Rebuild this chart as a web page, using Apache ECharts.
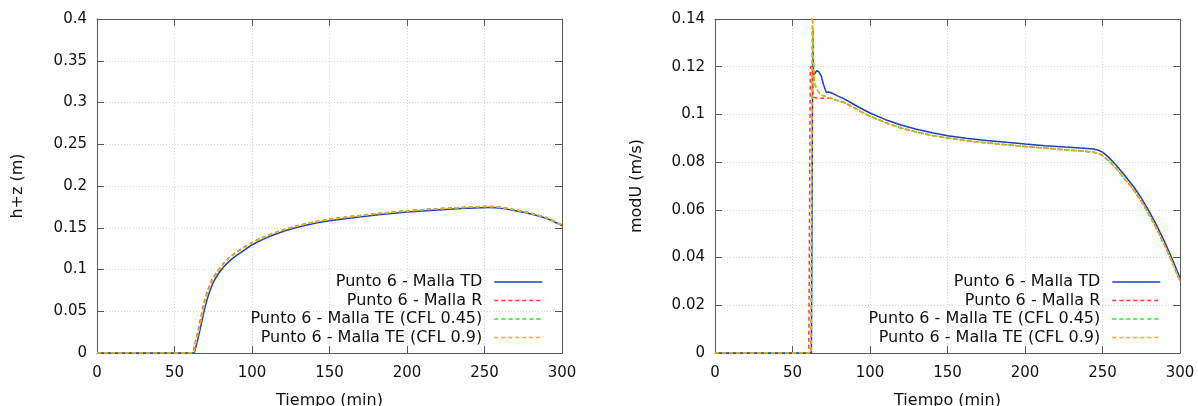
<!DOCTYPE html>
<html>
<head>
<meta charset="utf-8">
<script src="https://cdn.jsdelivr.net/npm/echarts@6/dist/echarts.min.js"></script>
<style>
html,body{margin:0;padding:0;background:#fff;}
#chart{width:1198px;height:406px;}
</style>
</head>
<body>
<div id="chart"></div>
<script>
// ---- Data ----
const seriesNames = ['Punto 6 - Malla TD', 'Punto 6 - Malla R', 'Punto 6 - Malla TE (CFL 0.45)', 'Punto 6 - Malla TE (CFL 0.9)'];
const xTicks = [0, 50, 100, 150, 200, 250, 300];

// Left chart: h+z (m) vs Tiempo (min)
const hzTD = [[0,0],[62.3,0],[64,0.009],[66,0.024],[68,0.041],[70,0.057],[72,0.07],[75,0.0845],[78,0.094],[82,0.1035],[86,0.111],[91,0.118],[96,0.1245],[101,0.1305],[110,0.1385],[120,0.1455],[130,0.1508],[140,0.1552],[150,0.1584],[160,0.1609],[170,0.1632],[180,0.1652],[190,0.1671],[200,0.1688],[210,0.1702],[220,0.1713],[230,0.1724],[240,0.1734],[247,0.174],[252,0.1743],[257,0.174],[262,0.1729],[270,0.1704],[280,0.1664],[290,0.161],[300,0.1527]];
const hzR = [[0,0],[61.3,0],[63,0.01],[65,0.025],[67,0.043],[69,0.06],[71,0.073],[74,0.087],[77,0.096],[81,0.106],[85,0.114],[90,0.121],[95,0.127],[100,0.1325],[110,0.1408],[120,0.1475],[130,0.1527],[140,0.157],[150,0.1601],[160,0.1626],[170,0.1648],[180,0.1668],[190,0.1687],[200,0.1704],[210,0.1717],[220,0.1728],[230,0.1738],[240,0.1748],[247,0.1754],[252,0.1756],[257,0.1753],[262,0.1741],[270,0.1715],[280,0.1674],[290,0.1619],[300,0.1534]];
const hzTE045 = [[0,0],[61.8,0],[63.4,0.01],[65.4,0.025],[67.4,0.043],[69.4,0.06],[71.4,0.073],[74.4,0.087],[77.4,0.096],[81.3,0.106],[85.3,0.114],[90.2,0.1208],[95.2,0.1268],[100,0.1323],[110,0.1406],[120,0.1473],[130,0.1525],[140,0.1568],[150,0.1599],[160,0.1624],[170,0.1646],[180,0.1666],[190,0.1685],[200,0.1702],[210,0.1715],[220,0.1726],[230,0.1736],[240,0.1746],[247,0.1752],[252,0.1754],[257,0.1751],[262,0.1739],[270,0.1713],[280,0.1672],[290,0.1617],[300,0.1532]];
const hzTE09 = [[0,0],[61.9,0],[63.5,0.01],[65.5,0.025],[67.5,0.043],[69.5,0.06],[71.5,0.073],[74.5,0.087],[77.5,0.096],[81.4,0.106],[85.4,0.114],[90.3,0.1208],[95.3,0.1268],[100,0.1322],[110,0.1405],[120,0.1472],[130,0.1524],[140,0.1567],[150,0.1598],[160,0.1623],[170,0.1645],[180,0.1665],[190,0.1684],[200,0.1701],[210,0.1714],[220,0.1725],[230,0.1735],[240,0.1745],[247,0.1751],[252,0.1753],[257,0.175],[262,0.1738],[270,0.1712],[280,0.1671],[290,0.1616],[300,0.1531]];

// Right chart: modU (m/s) vs Tiempo (min)
const uTD = [[0,0],[62.2,0],[63.1,0.1355],[63.6,0.1165],[64.5,0.117],[65.7,0.1183],[67,0.1178],[68.5,0.1162],[70,0.1125],[71.8,0.1092],[73.5,0.1094],[76,0.1088],[79,0.1078],[83,0.1066],[88,0.1048],[94,0.1026],[100,0.1006],[110,0.0978],[120,0.0956],[130,0.0938],[140,0.0923],[150,0.0911],[162,0.09],[175,0.0891],[188,0.0883],[200,0.0876],[213,0.0869],[226,0.0863],[238,0.0858],[244,0.0855],[247,0.0851],[250,0.0842],[254,0.082],[259,0.0786],[264,0.0747],[270,0.0698],[275,0.065],[280,0.0595],[285,0.0534],[290,0.0467],[295,0.0394],[300,0.0315]];
const uR = [[0,0],[60.5,0],[61.5,0.12],[62.8,0.12],[63.2,0.1072],[66,0.1068],[70,0.1068],[72,0.1069],[74,0.107],[78,0.106],[83,0.1051],[88,0.1035],[94,0.1012],[100,0.0993],[110,0.0965],[120,0.0943],[130,0.0926],[140,0.0912],[150,0.0901],[162,0.089],[175,0.0881],[188,0.0873],[200,0.0866],[213,0.0859],[226,0.0852],[238,0.0846],[244,0.0842],[247,0.0837],[250,0.0828],[254,0.0806],[259,0.0772],[264,0.0733],[270,0.0684],[275,0.0636],[280,0.0581],[285,0.052],[290,0.0453],[295,0.038],[300,0.0302]];
const uTE045 = [[0,0],[61.9,0],[62.9,0.136],[63.6,0.119],[64.3,0.1125],[65.5,0.111],[67.5,0.1088],[70,0.1078],[74,0.107],[78,0.106],[83,0.1051],[88,0.1035],[94,0.1012],[100,0.0993],[110,0.0965],[120,0.0943],[130,0.0926],[140,0.0912],[150,0.0901],[162,0.089],[175,0.0881],[188,0.0873],[200,0.0866],[213,0.0859],[226,0.0852],[238,0.0846],[244,0.0842],[247,0.0837],[250,0.0828],[254,0.0806],[259,0.0772],[264,0.0733],[270,0.0684],[275,0.0636],[280,0.0581],[285,0.052],[290,0.0453],[295,0.038],[300,0.0302]];
const uTE09 = [[0,0],[61.9,0],[62.8,0.148],[63.5,0.122],[64.2,0.1135],[65.5,0.1108],[67.5,0.1087],[70,0.1077],[74,0.1069],[78,0.1059],[83,0.105],[88,0.1034],[94,0.1011],[100,0.0992],[110,0.0964],[120,0.0942],[130,0.0925],[140,0.0911],[150,0.09],[162,0.0889],[175,0.088],[188,0.0872],[200,0.0865],[213,0.0858],[226,0.0851],[238,0.0845],[244,0.0841],[247,0.0836],[250,0.0827],[254,0.0805],[259,0.0771],[264,0.0732],[270,0.0683],[275,0.0635],[280,0.058],[285,0.0519],[290,0.0452],[295,0.0379],[300,0.0301]];

// ---- Styling ----
const FONT = "'DejaVu Sans', sans-serif";
const colors = ['#1d3fbf', '#ff3a3a', '#1fef1f', '#ffa81a'];
const dashes = ['solid', [4, 3], [4, 3], [4, 3]];
const borderColor = '#5a5a5a';
const gridColor = '#d6d6d6';

function mainX(gridIndex) {
  return {
    type: 'value', gridIndex, min: 0, max: 300, interval: 50, position: 'bottom',
    name: 'Tiempo (min)', nameLocation: 'middle', nameGap: 40,
    nameTextStyle: { fontFamily: FONT, fontSize: 16, color: '#111' },
    axisLine: { show: true, onZero: false, lineStyle: { color: borderColor, width: 1 } },
    axisTick: { show: true, inside: true, length: 7, lineStyle: { color: borderColor } },
    axisLabel: { fontFamily: FONT, fontSize: 15, color: '#111', margin: 13 },
    splitLine: { show: true, lineStyle: { color: gridColor, type: [1, 2], width: 1 } }
  };
}
function mirrorX(gridIndex) {
  return {
    type: 'value', gridIndex, min: 0, max: 300, interval: 50, position: 'top',
    axisLine: { show: true, onZero: false, lineStyle: { color: borderColor, width: 1 } },
    axisTick: { show: true, inside: true, length: 7, lineStyle: { color: borderColor } },
    axisLabel: { show: false }, splitLine: { show: false }
  };
}
function mainY(gridIndex, max, interval, name, gap) {
  return {
    type: 'value', gridIndex, min: 0, max, interval, position: 'left',
    name, nameLocation: 'middle', nameGap: gap, nameRotate: 90,
    nameTextStyle: { fontFamily: FONT, fontSize: 16, color: '#111' },
    axisLine: { show: true, onZero: false, lineStyle: { color: borderColor, width: 1 } },
    axisTick: { show: true, inside: true, length: 7, lineStyle: { color: borderColor } },
    axisLabel: { fontFamily: FONT, fontSize: 15, color: '#111', margin: 10 },
    splitLine: { show: true, lineStyle: { color: gridColor, type: [1, 2], width: 1 } }
  };
}
function mirrorY(gridIndex, max, interval) {
  return {
    type: 'value', gridIndex, min: 0, max, interval, position: 'right',
    axisLine: { show: true, onZero: false, lineStyle: { color: borderColor, width: 1 } },
    axisTick: { show: true, inside: true, length: 7, lineStyle: { color: borderColor } },
    axisLabel: { show: false }, splitLine: { show: false }
  };
}

function mkSeries(data, i, xi, yi, smooth) {
  return {
    type: 'line', name: seriesNames[i], data, xAxisIndex: xi, yAxisIndex: yi,
    showSymbol: false, symbol: 'none', smooth: smooth,
    clip: true, animation: false, z: 10 + i,
    lineStyle: { color: colors[i], width: 1.5, type: dashes[i] },
    itemStyle: { color: colors[i] }
  };
}

const leftSeries = [hzTD, hzR, hzTE045, hzTE09];
const rightSeries = [uTD, uR, uTE045, uTE09];
const series = [];
leftSeries.forEach((d, i) => series.push(mkSeries(d, i, 0, 0, 0.2)));
rightSeries.forEach((d, i) => series.push(mkSeries(d, i, 2, 2, false)));

const legendTops = [272, 290.5, 309, 327.5];
const legends = [];
[655, 37].forEach(rightPos => {
  seriesNames.forEach((n, i) => {
    legends.push({
      data: [n], right: rightPos, top: legendTops[i], orient: 'horizontal', align: 'right',
      padding: 0, itemWidth: 48, itemHeight: 10, selectedMode: false,
      textStyle: { fontFamily: FONT, fontSize: 16, color: '#111', lineHeight: 20, padding: [0, 7, 0, 0] },
      itemStyle: { color: 'rgba(0,0,0,0)', borderWidth: 0, opacity: 0 },
      lineStyle: { width: 1.5 }
    });
  });
});

const option = {
  animation: false,
  backgroundColor: '#ffffff',
  grid: [
    { left: 97, right: 636, top: 19, bottom: 53, containLabel: false, outerBoundsMode: 'none' },
    { left: 715, right: 18, top: 19, bottom: 53, containLabel: false, outerBoundsMode: 'none' }
  ],
  xAxis: [mainX(0), mirrorX(0), mainX(1), mirrorX(1)],
  yAxis: [
    mainY(0, 0.4, 0.05, 'h+z (m)', 71), mirrorY(0, 0.4, 0.05),
    mainY(1, 0.14, 0.02, 'modU (m/s)', 70), mirrorY(1, 0.14, 0.02)
  ],
  legend: legends,
  series
};

const chart = echarts.init(document.getElementById('chart'), null, { renderer: 'canvas' });
chart.setOption(option);
</script>
</body>
</html>
